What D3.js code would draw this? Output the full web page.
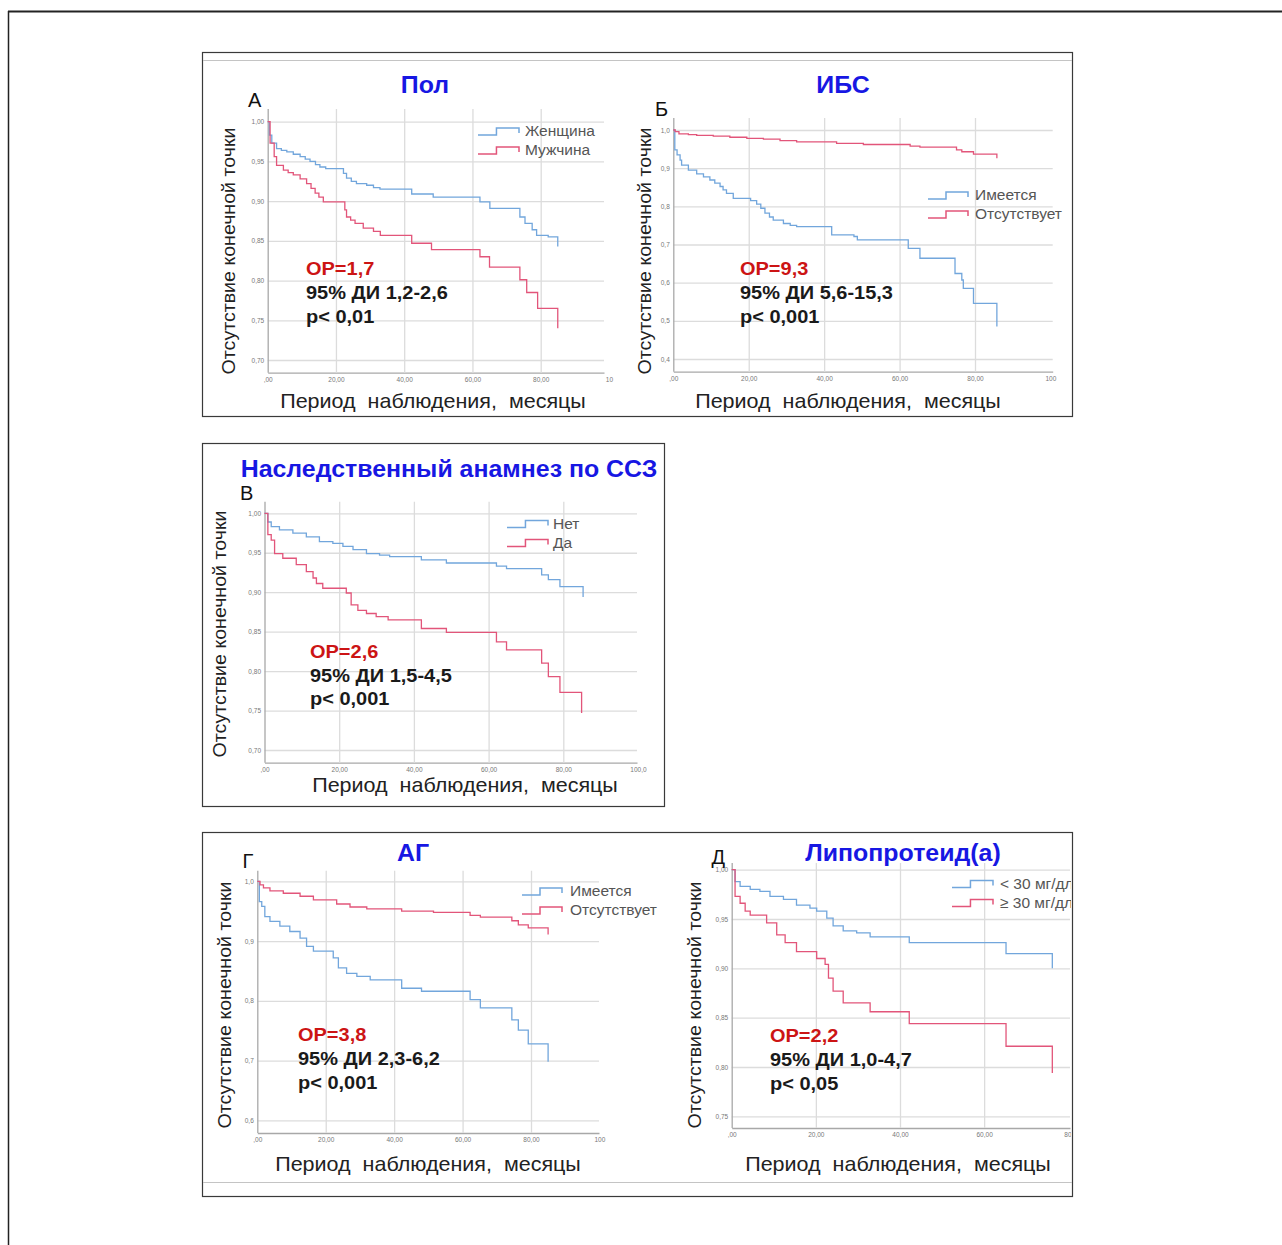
<!DOCTYPE html>
<html>
<head>
<meta charset="utf-8">
<script src="https://cdn.jsdelivr.net/npm/d3@7"></script>
<style>
  body { margin: 0; background: #fff; }
  text { font-family: "Liberation Sans", Arial, sans-serif; }
</style>
</head>
<body>
<script>
// survival curves: [month, survival after the drop at that month]
var polFemale = [[0,1],[0.5,0.983],[1.2,0.973],[2.6,0.966],[4,0.964],[5.6,0.962],[7.5,0.959],[9.5,0.956],[11,0.953],[12.4,0.95],[14,0.946],[15.3,0.943],[17,0.941],[22.2,0.935],[23.1,0.929],[24.5,0.925],[26,0.922],[29,0.92],[31,0.917],[32.9,0.915],[42.2,0.909],[48.5,0.905],[62.2,0.899],[65.1,0.891],[73.9,0.88],[75.4,0.872],[77.5,0.864],[78.8,0.857],[82.2,0.855],[85,0.843]];
var polMale = [[0,1],[0.7,0.973],[1.9,0.956],[2.6,0.945],[4.6,0.939],[6,0.936],[7.5,0.933],[9.5,0.928],[11.4,0.922],[12.7,0.916],[13.9,0.91],[15,0.905],[16.3,0.899],[22.6,0.889],[23.1,0.88],[24.3,0.876],[25.6,0.872],[28,0.866],[31,0.862],[33,0.857],[42.2,0.847],[48,0.839],[62.2,0.83],[65,0.817],[73.9,0.801],[75.9,0.785],[79.1,0.765],[85,0.74]];

var ibsYes = [[0,1],[0.4,0.948],[1,0.935],[1.8,0.921],[2.2,0.908],[4,0.895],[6.2,0.885],[8,0.877],[9.7,0.869],[11,0.861],[12.4,0.852],[13.2,0.843],[14.1,0.834],[15.9,0.821],[20.5,0.815],[22.1,0.806],[23.2,0.795],[24.3,0.782],[25.5,0.772],[26.5,0.764],[29.2,0.755],[31,0.75],[32.7,0.747],[42,0.725],[47.9,0.721],[48.8,0.712],[62.3,0.69],[65.4,0.664],[74.7,0.624],[76.5,0.607],[76.9,0.585],[79.6,0.546],[85.8,0.485]];
var ibsNo = [[0,1],[0.5,0.996],[1.5,0.99],[4,0.988],[6.2,0.986],[10.6,0.984],[15,0.981],[19.5,0.978],[23.9,0.976],[28.3,0.972],[32.7,0.969],[43.3,0.965],[50.4,0.962],[62.8,0.958],[65.4,0.955],[75.1,0.948],[76.5,0.943],[79.6,0.937],[85.8,0.926]];

var hereditaryNo = [[0,1],[0.9,0.989],[1.8,0.983],[4,0.979],[7.6,0.975],[11.2,0.97],[14.7,0.964],[18.3,0.962],[21,0.958],[23.7,0.954],[27.3,0.949],[30.8,0.947],[33.5,0.945],[42,0.941],[48.7,0.937],[62.1,0.933],[64.8,0.93],[74.2,0.922],[76,0.916],[79.1,0.907],[85.3,0.894]];
var hereditaryYes = [[0,1],[0.9,0.973],[1.8,0.966],[2.7,0.949],[4.9,0.943],[8.5,0.935],[11.2,0.926],[13,0.918],[13.9,0.911],[15.6,0.905],[21.9,0.899],[23.2,0.884],[25,0.877],[27.3,0.873],[29.9,0.869],[33.1,0.865],[42,0.854],[48.7,0.849],[62.1,0.837],[64.8,0.827],[74.2,0.81],[76,0.793],[79.1,0.773],[84.9,0.747]];

var agYes = [[0,1],[0.6,0.966],[1.3,0.958],[2.2,0.941],[3.7,0.933],[6.6,0.925],[9.5,0.916],[12.5,0.905],[14.4,0.891],[16.4,0.883],[22.2,0.872],[23.7,0.855],[26.1,0.846],[29.1,0.841],[33,0.835],[42.2,0.821],[48,0.816],[62.2,0.802],[65.2,0.788],[74.4,0.768],[76.3,0.751],[79.2,0.728],[85,0.698]];
var agNo = [[0,1],[0.8,0.994],[1.8,0.989],[3.7,0.984],[7.6,0.98],[12.5,0.975],[16.4,0.969],[23.2,0.962],[27.1,0.957],[32,0.954],[42.2,0.95],[51.5,0.948],[62.2,0.943],[65.2,0.94],[74.4,0.934],[76.3,0.927],[79.2,0.922],[85,0.911]];

var lpaLow = [[0,1],[0.8,0.988],[2,0.983],[4.4,0.98],[6.7,0.978],[9.1,0.973],[12.3,0.97],[15.4,0.964],[18.6,0.961],[20.2,0.958],[22.6,0.951],[24.1,0.943],[26.5,0.938],[29.7,0.936],[32.9,0.932],[42.2,0.926],[65.2,0.915],[76.2,0.9]];
var lpaHigh = [[0,1],[0.8,0.973],[2,0.966],[3.2,0.958],[4.4,0.954],[8.3,0.946],[10.7,0.934],[12.7,0.926],[15.4,0.917],[20.2,0.91],[22.2,0.904],[23,0.89],[24.1,0.877],[26.5,0.865],[32.9,0.856],[42.2,0.844],[65.2,0.821],[76.2,0.794]];

// tick values and labels
var xTicks100 = [0, 20, 40, 60, 80, 100];
var xTicks80 = [0, 20, 40, 60, 80];
var xLabelsA = [",00", "20,00", "40,00", "60,00", "80,00", "10"];
var xLabelsB = [",00", "20,00", "40,00", "60,00", "80,00", "100"];
var xLabelsV = [",00", "20,00", "40,00", "60,00", "80,00", "100,0"];
var xLabelsD = [",00", "20,00", "40,00", "60,00", "80,"];
var yTicksFine = [1.0, 0.95, 0.9, 0.85, 0.8, 0.75, 0.7];
var yLabelsFine = ["1,00", "0,95", "0,90", "0,85", "0,80", "0,75", "0,70"];
var yTicksIbs = [1.0, 0.9, 0.8, 0.7, 0.6, 0.5, 0.4];
var yLabelsIbs = ["1,0", "0,9", "0,8", "0,7", "0,6", "0,5", "0,4"];
var yTicksAg = [1.0, 0.9, 0.8, 0.7, 0.6];
var yLabelsAg = ["1,0", "0,9", "0,8", "0,7", "0,6"];
var yTicksLpa = [1.0, 0.95, 0.9, 0.85, 0.8, 0.75];
var yLabelsLpa = ["1,00", "0,95", "0,90", "0,85", "0,80", "0,75"];

var titles = ["Пол", "ИБС", "Наследственный анамнез по ССЗ", "АГ", "Липопротеид(а)"];
var letters = ["А", "Б", "В", "Г", "Д"];
var seriesNames = [["Женщина", "Мужчина"], ["Имеется", "Отсутствует"], ["Нет", "Да"],
                   ["Имеется", "Отсутствует"], ["< 30 мг/дл", "≥ 30 мг/дл"]];
var hrText = ["ОР=1,7", "ОР=9,3", "ОР=2,6", "ОР=3,8", "ОР=2,2"];
var ciText = ["95% ДИ 1,2-2,6", "95% ДИ 5,6-15,3", "95% ДИ 1,5-4,5", "95% ДИ 2,3-6,2", "95% ДИ 1,0-4,7"];
var pText = ["p< 0,01", "p< 0,001", "p< 0,001", "p< 0,001", "p< 0,05"];

var yTitle = "Отсутствие конечной точки";
var xTitle = "Период\u00a0\u00a0наблюдения,\u00a0\u00a0месяцы";

var blue = "#72a6dc", red = "#e2557a";
var titleBlue = "#1717e3", hrRed = "#cc1414";

var W = 1282, H = 1245;
var svg = d3.select("body").append("svg").attr("width", W).attr("height", H);

// page frame
svg.append("line").attr("x1", 8).attr("x2", W).attr("y1", 11.5).attr("y2", 11.5)
  .attr("stroke", "#222").attr("stroke-width", 2);
svg.append("line").attr("x1", 8.5).attr("x2", 8.5).attr("y1", 11).attr("y2", H)
  .attr("stroke", "#222").attr("stroke-width", 1.5);

// framed boxes
var boxes = [
  {id: "b1", x: 202, y: 52, w: 870, h: 364, innerTop: 60},
  {id: "b2", x: 202, y: 443, w: 462, h: 363},
  {id: "b3", x: 202, y: 832, w: 870, h: 364, innerBottom: 1182}
];
var defs = svg.append("defs");
boxes.forEach(function(b) {
  defs.append("clipPath").attr("id", b.id).append("rect")
    .attr("x", b.x + 1).attr("y", b.y + 1).attr("width", b.w - 2).attr("height", b.h - 2);
  svg.append("rect").attr("x", b.x + 0.5).attr("y", b.y + 0.5).attr("width", b.w).attr("height", b.h)
    .attr("fill", "#fff").attr("stroke", "#3a3a3a").attr("stroke-width", 1.2);
  if (b.innerTop) svg.append("line").attr("x1", b.x + 1).attr("x2", b.x + b.w).attr("y1", b.innerTop + 0.5).attr("y2", b.innerTop + 0.5).attr("stroke", "#c4c4c4");
  if (b.innerBottom) svg.append("line").attr("x1", b.x + 1).attr("x2", b.x + b.w).attr("y1", b.innerBottom + 0.5).attr("y2", b.innerBottom + 0.5).attr("stroke", "#c4c4c4");
});

// text with a slight horizontal stretch, like the source image
function stretched(g, x, y, sx, rot) {
  return g.append("text")
    .attr("transform", "translate(" + x + "," + y + ")" + (rot ? " rotate(" + rot + ")" : "") + " scale(" + sx + ",1)");
}

var panels = [
  {clip: "b1", x0: 267.7, x80: 540.7, right: 604, top: 109, bottom: 372.7, yFirst: 121.7, yLast: 360,
   xTicks: xTicks100, xLabels: xLabelsA, yTicks: yTicksFine, yLabels: yLabelsFine, series: [polFemale, polMale],
   title: {x: 425, y: 92.5}, letter: {x: 248, y: 107}, yTitleX: 229, yTitleY: 251, xTitle: {x: 433, y: 408},
   legend: {x0: 478, x1: 519, tx: 525, cy: 131}, stats: {x: 306, y: 275}},
  {clip: "b1", x0: 673.3, x80: 975, right: 1052.7, top: 118, bottom: 371.7, yFirst: 130, yLast: 359,
   xTicks: xTicks100, xLabels: xLabelsB, yTicks: yTicksIbs, yLabels: yLabelsIbs, series: [ibsYes, ibsNo],
   title: {x: 843, y: 92.5}, letter: {x: 655, y: 115.5}, yTitleX: 645, yTitleY: 251, xTitle: {x: 848, y: 408},
   legend: {x0: 928, x1: 968, tx: 975, cy: 195}, stats: {x: 740, y: 275}},
  {clip: "b2", x0: 264.5, x80: 563.3, right: 637, top: 501.7, bottom: 762.7, yFirst: 513.3, yLast: 750,
   xTicks: xTicks100, xLabels: xLabelsV, yTicks: yTicksFine, yLabels: yLabelsFine, series: [hereditaryNo, hereditaryYes],
   title: {x: 449, y: 476.5}, letter: {x: 240, y: 500}, yTitleX: 220, yTitleY: 634, xTitle: {x: 465, y: 791.5},
   legend: {x0: 507, x1: 548, tx: 553, cy: 523.5}, stats: {x: 310, y: 657.5}},
  {clip: "b3", x0: 257.3, x80: 531, right: 599, top: 870.7, bottom: 1133, yFirst: 881.3, yLast: 1120.3,
   xTicks: xTicks100, xLabels: xLabelsB, yTicks: yTicksAg, yLabels: yLabelsAg, series: [agYes, agNo],
   title: {x: 413, y: 860.5}, letter: {x: 242.5, y: 868}, yTitleX: 225, yTitleY: 1005, xTitle: {x: 428, y: 1171.3},
   legend: {x0: 522, x1: 562, tx: 570, cy: 891}, stats: {x: 298, y: 1041.3}},
  {clip: "b3", x0: 731.7, x80: 1068.3, right: 1070, top: 863, bottom: 1128, yFirst: 869.7, yLast: 1116.3,
   xTicks: xTicks80, xLabels: xLabelsD, yTicks: yTicksLpa, yLabels: yLabelsLpa, series: [lpaLow, lpaHigh],
   title: {x: 903, y: 860.5}, letter: {x: 711.5, y: 864}, yTitleX: 695, yTitleY: 1005, xTitle: {x: 898, y: 1171.3},
   legend: {x0: 952, x1: 993, tx: 1000, cy: 883.5}, stats: {x: 770, y: 1042}}
];

panels.forEach(function(p, i) {
  var g = svg.append("g").attr("clip-path", "url(#" + p.clip + ")");

  var x = d3.scaleLinear().domain([0, 80]).range([p.x0, p.x80]);
  x.domain([0, x.invert(p.right)]).range([p.x0, p.right]);
  var yT = p.yTicks;
  var y = d3.scaleLinear().domain([yT[0], yT[yT.length - 1]]).range([p.yFirst, p.yLast]);
  y.domain([y.invert(p.bottom), y.invert(p.top)]).range([p.bottom, p.top]);

  // horizontal grid + y axis
  var ya = g.append("g").attr("transform", "translate(" + p.x0 + ",0)")
    .call(d3.axisLeft(y).tickValues(yT).tickFormat(function(d, k) { return p.yLabels[k]; })
      .tickSizeInner(-(p.right - p.x0)).tickSizeOuter(0).tickPadding(3.5));
  ya.selectAll(".tick line").attr("stroke", "#dcdcdc").attr("stroke-width", 1.3);
  ya.selectAll(".tick text").attr("font-size", 6.5).attr("fill", "#777");
  ya.select(".domain").remove();

  // vertical grid + x axis
  var xa = g.append("g").attr("transform", "translate(0," + p.bottom + ")")
    .call(d3.axisBottom(x).tickValues(p.xTicks).tickFormat(function(d, k) { return p.xLabels[k]; })
      .tickSizeInner(-(p.bottom - p.top)).tickSizeOuter(0).tickPadding(4.5));
  xa.selectAll(".tick line")
    .attr("stroke", function(d) { return d === 0 ? "#a8a8a8" : "#dcdcdc"; })
    .attr("stroke-width", 1.3)
    .attr("opacity", function(d) { return d > 80 || x(d) > p.right - 3 ? 0 : 1; });
  xa.selectAll(".tick text").attr("font-size", 6.5).attr("fill", "#777");
  xa.select(".domain").attr("stroke", "#a8a8a8").attr("stroke-width", 1.3);

  // survival curves
  var line = d3.line().x(function(d) { return x(d[0]); }).y(function(d) { return y(d[1]); })
    .curve(d3.curveStepAfter);
  [blue, red].forEach(function(c, k) {
    g.append("path").datum(p.series[k]).attr("d", line)
      .attr("fill", "none").attr("stroke", c).attr("stroke-width", 1.3);
  });

  // legend
  var L = p.legend;
  [blue, red].forEach(function(c, k) {
    var cy = L.cy + k * 19;
    var xm = L.x0 + (L.x1 - L.x0) * 0.45;
    g.append("path")
      .attr("d", "M" + L.x0 + "," + (cy + 4) + "H" + xm + "V" + (cy - 3) + "H" + L.x1 + "V" + (cy + 2))
      .attr("fill", "none").attr("stroke", c).attr("stroke-width", 1.5);
    g.append("text").attr("x", L.tx).attr("y", cy).attr("dy", "0.35em")
      .attr("font-size", 15.5).attr("fill", "#555").text(seriesNames[i][k]);
  });

  // titles and labels
  stretched(g, p.title.x, p.title.y, 1.06).attr("text-anchor", "middle")
    .attr("font-size", 23.5).attr("font-weight", "bold").attr("fill", titleBlue).text(titles[i]);
  g.append("text").attr("x", p.letter.x).attr("y", p.letter.y)
    .attr("font-size", 20).attr("fill", "#111").text(letters[i]);
  stretched(g, p.yTitleX, p.yTitleY, 1.06, -90)
    .attr("text-anchor", "middle").attr("dy", "0.35em")
    .attr("font-size", 18.5).attr("fill", "#222").text(yTitle);
  stretched(g, p.xTitle.x, p.xTitle.y, 1.05).attr("text-anchor", "middle")
    .attr("font-size", 20.5).attr("fill", "#222").text(xTitle);

  // statistics
  var S = p.stats;
  stretched(g, S.x, S.y, 1.08).attr("font-size", 18.5).attr("font-weight", "bold")
    .attr("fill", hrRed).text(hrText[i]);
  stretched(g, S.x, S.y + 24, 1.08).attr("font-size", 18.5).attr("font-weight", "bold")
    .attr("fill", "#1a1a1a").text(ciText[i]);
  stretched(g, S.x, S.y + 47.5, 1.08).attr("font-size", 18.5).attr("font-weight", "bold")
    .attr("fill", "#1a1a1a").text(pText[i]);
});
</script>
</body>
</html>
